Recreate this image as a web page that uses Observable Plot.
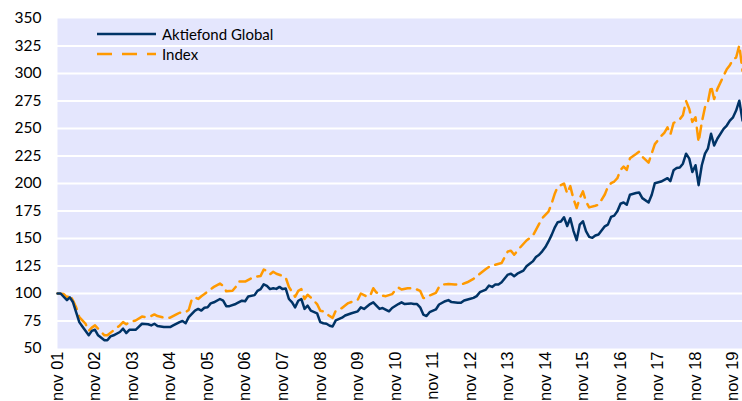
<!DOCTYPE html>
<html><head><meta charset="utf-8">
<script src="https://cdn.jsdelivr.net/npm/d3@7"></script>
<script src="https://cdn.jsdelivr.net/npm/@observablehq/plot@0.6"></script>
<style>
body{margin:0;background:#fff;}
#wrap{position:relative;width:742px;height:401px;overflow:hidden;}
#legend{position:absolute;left:97px;top:24px;font-family:Lato, sans-serif;font-size:15px;color:#000;}
.row{display:flex;align-items:center;height:20px;white-space:nowrap;}
.row svg{margin-right:6px;display:block;}
</style></head><body><div id="wrap"><div id="chart"></div><div id="legend"></div></div>
<script>
const seriesNames = ["Aktiefond Global", "Index"];
const seriesColors = ["#003366", "#ff9900"];

const fundDates = ["2001-11","2001-12","2002-02","2002-03","2002-04","2002-05","2002-06","2002-07","2002-09","2002-10","2002-11","2002-12","2003-02","2003-03","2003-04","2003-05","2003-07","2003-08","2003-09","2003-10","2003-12","2004-02","2004-04","2004-05","2004-06","2004-07","2004-09","2004-11","2004-12","2005-02","2005-03","2005-04","2005-05","2005-07","2005-08","2005-09","2005-10","2005-11","2005-12","2006-01","2006-03","2006-04","2006-05","2006-06","2006-08","2006-10","2006-11","2006-12","2007-02","2007-03","2007-04","2007-05","2007-06","2007-07","2007-08","2007-09","2007-10","2007-11","2007-12","2008-01","2008-02","2008-03","2008-04","2008-05","2008-06","2008-07","2008-08","2008-10","2008-11","2008-12","2009-01","2009-02","2009-03","2009-04","2009-06","2009-07","2009-09","2009-11","2009-12","2010-01","2010-03","2010-04","2010-05","2010-06","2010-07","2010-09","2010-10","2010-12","2011-01","2011-02","2011-04","2011-05","2011-06","2011-07","2011-08","2011-09","2011-10","2011-12","2012-01","2012-03","2012-04","2012-05","2012-07","2012-08","2012-09","2012-11","2012-12","2013-01","2013-02","2013-04","2013-05","2013-06","2013-07","2013-08","2013-09","2013-11","2013-12","2014-01","2014-02","2014-04","2014-05","2014-06","2014-07","2014-08","2014-09","2014-10","2014-11","2014-12","2015-01","2015-02","2015-03","2015-04","2015-05","2015-06","2015-07","2015-08","2015-09","2015-10","2015-11","2015-12","2016-01","2016-02","2016-03","2016-04","2016-06","2016-07","2016-08","2016-09","2016-10","2016-11","2016-12","2017-01","2017-02","2017-04","2017-05","2017-06","2017-08","2017-09","2017-10","2017-12","2018-01","2018-02","2018-03","2018-04","2018-05","2018-06","2018-07","2018-08","2018-09","2018-10","2018-11","2018-12","2019-01","2019-02","2019-03","2019-04","2019-05","2019-06","2019-08","2019-09","2019-10","2019-11","2019-12","2020-01","2020-02"];
const fundValues = [100,100,94,96.5,92,83,74,70,62,66,67,62,57.5,57.5,61,62,65,68,64,67,67,72.5,72,71,72.5,70.5,69.5,69.5,71,74,75,73,78.5,84.5,86,84.5,87,87.5,91,92,95,93.5,88.5,88.5,90.5,93.5,93,97.3,98.5,102.4,104,108.4,107,104,104.8,104.2,106,104,104.5,95,92,87.4,93.4,95,86,89,84.4,82,74,73,72.5,70.7,70,75.5,78,80,82,83.8,87.4,86,90.4,92,89,86,86.8,83.8,86.8,90.4,92,90.4,91,90.4,90.4,87.4,80.8,79.5,83,85.5,90,93,94,92.2,91.6,91.6,93.7,95.2,96,97.6,101.2,103.6,107.2,106,108.1,108.1,110.2,117.2,118,115.7,118,120.8,124.7,127,129.2,133.1,135.2,138.3,142.2,147.3,153.3,160.2,164.8,165.4,169.3,161.4,168.4,157,148.5,162.6,165.7,156.6,151.5,150.6,152.7,153.6,161.1,162.6,169.6,170.8,174.7,181.6,182.8,180.7,189.8,191.3,191.9,186.7,182.8,189.8,200.3,201.8,203.3,204.8,202.1,212,214,214.5,218,227.1,222.6,210.5,216.6,198.5,216.6,227.1,231.6,245.2,234.6,240.7,249.7,252.7,257.2,260.2,266.3,275.3,257.2];

const indexDates = ["2001-11","2002-01","2002-02","2002-03","2002-04","2002-05","2002-06","2002-07","2002-08","2002-09","2002-10","2002-11","2003-01","2003-02","2003-03","2003-05","2003-07","2003-08","2003-09","2003-10","2003-12","2004-02","2004-03","2004-05","2004-06","2004-07","2004-09","2004-11","2005-01","2005-02","2005-04","2005-05","2005-06","2005-07","2005-08","2005-09","2005-10","2005-12","2006-01","2006-03","2006-04","2006-05","2006-07","2006-08","2006-09","2006-11","2007-01","2007-02","2007-04","2007-05","2007-06","2007-07","2007-08","2007-09","2007-11","2007-12","2008-01","2008-03","2008-04","2008-05","2008-06","2008-07","2008-08","2008-10","2008-11","2008-12","2009-01","2009-03","2009-04","2009-06","2009-07","2009-08","2009-11","2009-12","2010-02","2010-03","2010-04","2010-05","2010-07","2010-08","2010-10","2010-11","2010-12","2011-01","2011-03","2011-05","2011-07","2011-08","2011-09","2011-10","2011-12","2012-01","2012-02","2012-04","2012-06","2012-08","2012-10","2012-12","2013-02","2013-04","2013-06","2013-07","2013-09","2013-10","2013-11","2013-12","2014-01","2014-03","2014-05","2014-07","2014-08","2014-09","2014-10","2014-12","2015-01","2015-02","2015-03","2015-04","2015-05","2015-06","2015-07","2015-08","2015-09","2015-10","2015-11","2015-12","2016-01","2016-03","2016-04","2016-06","2016-07","2016-08","2016-09","2016-10","2016-11","2016-12","2017-01","2017-02","2017-04","2017-05","2017-06","2017-08","2017-09","2017-10","2017-12","2018-01","2018-02","2018-03","2018-04","2018-06","2018-07","2018-08","2018-09","2018-10","2018-11","2018-12","2019-01","2019-02","2019-03","2019-04","2019-05","2019-06","2019-08","2019-09","2019-10","2019-11","2019-12","2020-01","2020-02"];
const indexValues = [100,99.5,96.5,99,93.5,87.5,78.5,75.5,72.5,66,69,71,65,62,62,66.5,71,74,72,74,75.5,79,78.5,79.5,81,79.5,78,78,81,82.5,83,85,95,96.5,95,97.5,99.5,104,106,109,107,102,102.5,106,111,110.8,113.8,115,116,121.8,120.4,117.4,119.8,118,116,114.4,106,97,102.4,104,95,98.8,96.4,90.4,84.4,83.8,81.4,77.8,84.4,86.8,89,91.3,94.3,100,97,97.9,104.8,101,97.9,97.6,99.4,103,105.4,103.6,104.8,104.8,102.4,95.8,96,98.2,100.6,106,108.1,108.7,108.1,108.1,110.2,113.3,118,122.3,126.2,126.2,127.7,133.1,138.3,138.9,135.2,141.9,148.2,152.4,157.8,163.3,168.4,174.4,181.9,191,197,198.5,200,191,197.6,186,177.7,186.7,192.8,183.7,178.3,179.8,180.7,190,197,200.3,201.8,204.8,212.3,215.4,212.3,222.9,226.8,228.9,224.4,219,227.4,235.8,243,246,251,244.5,255,258.5,262,275,267.8,256,260.2,237.6,255.7,269.3,273.8,288.9,276.8,285.8,297.9,303.9,307.5,312.9,314.5,325.6,302.4];

const tickDates = ["2001-11","2002-11","2003-11","2004-11","2005-11","2006-11","2007-11","2008-11","2009-11","2010-11","2011-11","2012-11","2013-11","2014-11","2015-11","2016-11","2017-11","2018-11","2019-11"];
const tickLabels = ["nov 01","nov 02","nov 03","nov 04","nov 05","nov 06","nov 07","nov 08","nov 09","nov 10","nov 11","nov 12","nov 13","nov 14","nov 15","nov 16","nov 17","nov 18","nov 19"];
const yTicks = [50,75,100,125,150,175,200,225,250,275,300,325,350];
const gridValues = [75,100,125,150,175,200,225,250,275,300,325];

const parse = d3.utcParse("%Y-%m");
const fund = fundDates.map((d, i) => ({date: parse(d), value: fundValues[i]}));
const index = indexDates.map((d, i) => ({date: parse(d), value: indexValues[i]}));
const tickDateObjs = tickDates.map(parse);
const labelMap = new Map(tickDateObjs.map((d, i) => [+d, tickLabels[i]]));

const chart = Plot.plot({
  width: 742, height: 401,
  marginLeft: 57, marginRight: 0, marginTop: 18, marginBottom: 53,
  style: {fontFamily: "Lato, sans-serif", fontSize: "15px", color: "#000", background: "#fff", overflow: "visible"},
  x: {type: "utc", domain: [parse(fundDates[0]), parse(fundDates[fundDates.length - 1])]},
  y: {domain: [50, 350]},
  marks: [
    Plot.frame({fill: "#e4e6fd", stroke: null}),
    Plot.gridY(gridValues, {stroke: "#ffffff", strokeOpacity: 1, strokeWidth: 2}),
    Plot.axisY(yTicks, {tickSize: 0, tickPadding: 16, label: null, fontSize: 15.5}),
    Plot.axisX(tickDateObjs, {tickSize: 0, tickPadding: 3, tickRotate: -90, label: null,
      tickFormat: d => labelMap.get(+d), fontFamily: "Liberation Sans, Arial, sans-serif", fontSize: 16.5}),
    Plot.line(index, {x: "date", y: "value", stroke: seriesColors[1], strokeWidth: 2.5, strokeDasharray: "12,7"}),
    Plot.line(fund, {x: "date", y: "value", stroke: seriesColors[0], strokeWidth: 2.5})
  ]
});
document.getElementById("chart").appendChild(chart);

const legend = document.getElementById("legend");
seriesNames.forEach((name, i) => {
  const row = document.createElement("div");
  row.className = "row";
  const dash = i === 1 ? ' stroke-dasharray="15,10"' : '';
  row.innerHTML = `<svg width="59" height="6"><line x1="0" y1="3" x2="59" y2="3" stroke="${seriesColors[i]}" stroke-width="2.5"${dash}/></svg><span>${name}</span>`;
  legend.appendChild(row);
});
</script>
</body></html>
